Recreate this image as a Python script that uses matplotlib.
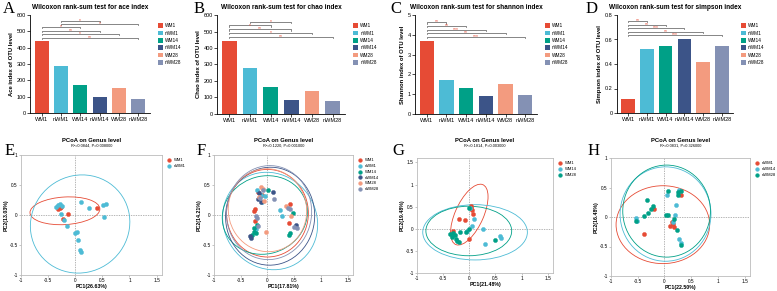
import matplotlib.pyplot as plt
from matplotlib.patches import Ellipse

plt.rcParams["font.family"] = ["Liberation Sans", "DejaVu Sans"]

# ---- alpha diversity bars ----
groups = ["WM1", "nWM1", "WM14", "nWM14", "WM28", "nWM28"]
colors = ["#E64B35", "#4DBBD5", "#00A087", "#3C5488", "#F39B7F", "#8491B4"]

ace = [440, 285, 172, 100, 152, 87]
chao = [440, 278, 165, 85, 140, 77]
shannon = [3.7, 1.72, 1.33, 0.93, 1.5, 0.97]
simpson = [0.115, 0.52, 0.545, 0.605, 0.413, 0.545]

# significance brackets: (i, j, height, label)
ace_sig = [(1, 3, 565, "*"), (1, 5, 545, "*"), (0, 2, 525, "*"),
           (0, 3, 504, "**"), (0, 4, 484, "*"), (0, 5, 462, "**")]
chao_sig = [(1, 3, 557, "*"), (0, 2, 537, "*"), (0, 3, 513, "**"),
            (0, 4, 492, "*"), (0, 5, 468, "**")]
shannon_sig = [(0, 1, 4.63, "**"), (0, 2, 4.46, "**"), (0, 3, 4.26, "***"),
               (0, 4, 4.08, "**"), (0, 5, 3.88, "***")]
simpson_sig = [(0, 1, 0.749, "**"), (0, 2, 0.719, "**"), (0, 3, 0.692, "***"),
               (0, 4, 0.665, "**"), (0, 5, 0.638, "***")]

# ---- PCoA data ----
E_groups = ["WM1", "nWM1"]
E_x = [[-0.28, -0.31, -0.27, -0.22, -0.14, 0.41, -0.32],
       [-0.36, -0.32, -0.29, -0.27, -0.20, -0.15, 0.0, 0.04, 0.06, 0.08, 0.10,
        0.10, 0.26, 0.52, 0.57, 0.53, -0.25]]
E_y = [[0.11, 0.10, 0.13, -0.06, 0.01, 0.12, 0.15],
       [0.14, 0.17, 0.18, 0.02, -0.09, -0.18, -0.30, -0.28, -0.42, -0.59, -0.61,
        0.22, 0.12, 0.17, 0.18, -0.04, 0.15]]
E_ell = [(-0.19, 0.07, 1.29, 0.46, 3), (0.09, -0.15, 1.84, 1.63, 10)]

F_groups = groups
F_x = [[-0.23, -0.25, -0.23, 0.40, 0.43, -0.10, -0.18],
       [0.23, 0.28, -0.13, -0.22, -0.05, -0.10, -0.20],
       [0.01, 0.48, 0.43, 0.41, -0.20, -0.25, -0.28, -0.26, -0.22],
       [0.10, 0.53, -0.32, -0.15, -0.18, -0.30, -0.12],
       [-0.12, 0.34, 0.44, -0.02, -0.06, -0.16, -0.08],
       [-0.09, 0.12, 0.38, 0.43, 0.55, 0.50, -0.21, -0.19, -0.18, -0.14]]
F_y = [[0.10, 0.06, -0.10, -0.14, 0.18, 0.33, 0.38],
       [0.09, -0.01, 0.34, -0.24, 0.31, 0.22, 0.41],
       [0.41, 0.03, -0.30, -0.34, -0.16, -0.28, -0.33, -0.22, -0.30],
       [0.38, -0.16, -0.35, 0.36, 0.27, -0.38, 0.22],
       [0.46, 0.15, -0.02, -0.28, 0.23, 0.30, 0.44],
       [0.42, 0.27, 0.12, 0.10, -0.22, -0.20, -0.01, -0.05, -0.19, 0.29]]
F_ell = [(0.0, 0.03, 1.53, 1.46, 0), (0.05, -0.10, 1.80, 1.60, -20),
         (-0.05, 0.0, 1.60, 1.30, 10), (0.05, -0.02, 1.67, 1.63, 15),
         (0.0, 0.08, 1.47, 1.38, -10), (0.03, 0.04, 1.60, 1.56, 25)]

G_groups = ["WM1", "WM14", "WM28"]
G_x = [[-0.20, -0.09, -0.32, -0.01, 0.03, 0.06, 0.07, 0.04],
       [0.01, 0.09, 0.06, 0.26, 0.30, 0.58, 0.60, -0.04, -0.32],
       [0.0, -0.36, -0.31, -0.34, -0.26, -0.23, -0.20, -0.18, -0.07, -0.01, 0.50, -0.28]]
G_y = [[0.21, 0.19, -0.04, -0.22, 0.51, 0.42, 0.34, 0.47],
       [0.47, 0.22, 0.06, -0.01, -0.34, -0.16, -0.20, -0.04, -0.13],
       [0.46, -0.11, -0.09, -0.19, -0.24, -0.28, -0.29, -0.07, -0.07, -0.01, -0.26, -0.15]]
G_ell = [(0.0, 0.32, 1.45, 0.55, 70), (0.11, -0.08, 2.0, 1.25, 0),
         (-0.01, -0.05, 1.64, 1.12, 0)]

H_groups = ["nWM1", "nWM14", "nWM28"]
H_x = [[-0.39, -0.20, 0.14, 0.16, 0.11, 0.17, 0.30],
       [-0.53, -0.51, 0.05, 0.22, 0.19, 0.28, 0.30, 0.16, 0.28],
       [-0.53, -0.39, -0.33, -0.30, -0.25, -0.22, 0.06, 0.03, 0.06, 0.17, 0.25,
        0.31, 0.26, 0.30, 0.24]]
H_y = [[-0.28, 0.13, -0.09, -0.12, -0.15, -0.17, 0.38],
       [-0.02, -0.07, 0.37, 0.21, 0.04, -0.37, -0.44, -0.08, 0.46],
       [-0.07, 0.02, 0.28, 0.06, 0.14, 0.18, 0.44, 0.04, 0.03, -0.04, 0.43,
        0.44, 0.38, -0.48, -0.22]]
H_ell = [(-0.03, -0.13, 1.75, 1.32, 0), (0.02, 0.05, 1.70, 1.60, 0),
         (0.04, 0.10, 1.64, 1.56, 0)]

pcoa_stats = ["R\u00b2=0.0844, P=0.008000", "R\u00b2=0.1220, P=0.001000",
              "R\u00b2=0.1814, P=0.003000", "R\u00b2=0.0831, P=0.326000"]
pc1 = ["PC1(26.63%)", "PC1(17.81%)", "PC1(21.48%)", "PC1(22.50%)"]
pc2 = ["PC2(13.03%)", "PC2(14.21%)", "PC2(19.48%)", "PC2(16.48%)"]

W, H = 777, 291
fig = plt.figure(figsize=(W / 100, H / 100), dpi=100)
LETTER = dict(fontsize=12, family="Liberation Serif", va="top")


def box(l, t, r, b):
    return [l / W, 1 - b / H, (r - l) / W, (b - t) / H]


def bar_panel(rect, vals, sig, title, ylabel, ymax, step, lab, lab_x):
    ax = fig.add_axes(box(*rect))
    x = range(len(groups))
    ax.bar(x, vals, width=0.72, color=colors, label=groups)
    ax.set_ylim(0, ymax)
    ticks = [i * step for i in range(int(round(ymax / step)) + 1)]
    ax.set_yticks(ticks)
    ax.set_yticklabels([("%g" % round(t, 2)) for t in ticks])
    ax.set_xticks(list(x))
    ax.set_xticklabels(groups)
    ax.set_xlim(-0.6, 5.6)
    ax.spines["top"].set_visible(False)
    ax.spines["right"].set_visible(False)
    for s in ("left", "bottom"):
        ax.spines[s].set_linewidth(0.6)
    ax.tick_params(labelsize=4, length=2, width=0.5, pad=1)
    ax.set_ylabel(ylabel, fontsize=4.2, fontweight="bold", labelpad=2)
    ax.set_title(title, fontsize=4.7, fontweight="bold", pad=4)
    dy = ymax * 0.012
    for i, j, h, s in sig:
        ax.plot([i, i, j, j], [h - dy, h, h, h - dy], color="#555555", lw=0.5,
                clip_on=False)
        ax.text((i + j) / 2, h + dy * 0.3, s, color="#E64B35", fontsize=3.6,
                ha="center", va="center")
    ax.legend(loc="upper left", bbox_to_anchor=(1.03, 0.96), frameon=False,
              fontsize=3.4, handlelength=1.1, handleheight=1.1, labelspacing=0.5,
              handletextpad=0.4)
    fig.text(lab_x / W, 1 - 1 / H, lab, **LETTER)


bar_panel((30, 15, 150, 113), ace, ace_sig, "Wilcoxon rank-sum test for ace index",
          "Ace index of OTU level", 600, 100, "A", 3)
bar_panel((217, 15, 345, 114), chao, chao_sig, "Wilcoxon rank-sum test for chao index",
          "Chao index of OTU level", 600, 100, "B", 194)
bar_panel((415, 15, 537, 114), shannon, shannon_sig,
          "Wilcoxon rank-sum test for shannon index",
          "Shannon index of OTU level", 5, 1, "C", 390)
bar_panel((617, 15, 733, 113), simpson, simpson_sig,
          "Wilcoxon rank-sum test for simpson index",
          "Simpson index of OTU level", 0.8, 0.2, "D", 586)


def pcoa_panel(rect, names, cols, xs, ys, ells, ylim, yticks, k, lab, lab_x):
    ax = fig.add_axes(box(*rect))
    for n, c, px, py, (cx, cy, w, h, a) in zip(names, cols, xs, ys, ells):
        ax.scatter(px, py, s=9, color=c, edgecolors=c, linewidths=0.3,
                   label=n, zorder=3)
        ax.add_patch(Ellipse((cx, cy), w, h, angle=a, fill=False,
                             edgecolor=c, lw=0.6, zorder=2))
    ax.axhline(0, color="#999999", lw=0.5, ls=(0, (2, 1.5)), zorder=1)
    ax.axvline(0, color="#999999", lw=0.5, ls=(0, (2, 1.5)), zorder=1)
    ax.set_xlim(-1, 1.6)
    ax.set_ylim(*ylim)
    ax.set_xticks([-1, -0.5, 0, 0.5, 1, 1.5])
    ax.set_xticklabels(["-1", "-0.5", "0", "0.5", "1", "1.5"])
    ax.set_yticks(yticks)
    ax.set_yticklabels([("%g" % t) for t in yticks])
    for s in ax.spines.values():
        s.set_color("#BBBBBB")
        s.set_linewidth(0.6)
    ax.tick_params(labelsize=3.4, length=1.5, width=0.4, pad=0.8, color="#999999")
    ax.set_xlabel(pc1[k], fontsize=3.8, fontweight="bold", labelpad=0.5)
    ax.set_ylabel(pc2[k], fontsize=3.8, fontweight="bold", labelpad=1)
    cxp = (rect[0] + rect[2]) / 2 / W
    fig.text(cxp, 1 - 140 / H, "PCoA on Genus level", fontsize=4.2,
             fontweight="bold", ha="center", va="center")
    fig.text(cxp, 1 - 146 / H, pcoa_stats[k], fontsize=2.8,
             ha="center", va="center")
    ax.legend(loc="upper left", bbox_to_anchor=(1.0, 1.0), frameon=False,
              fontsize=3, markerscale=0.9, handletextpad=0.1,
              labelspacing=0.45, borderaxespad=0.3)
    fig.text(lab_x / W, 1 - 143 / H, lab, **LETTER)


pcoa_panel((21, 155, 162, 275), E_groups, colors[:2], E_x, E_y, E_ell,
           (-1, 1), [-1, -0.5, 0, 0.5, 1], 0, "E", 5)
pcoa_panel((214, 155, 353, 275), F_groups, colors, F_x, F_y, F_ell,
           (-1, 1), [-1, -0.5, 0, 0.5, 1], 1, "F", 197)
pcoa_panel((417, 158, 553, 273), G_groups, colors[:3], G_x, G_y, G_ell,
           (-1, 1.6), [-1, -0.5, 0, 0.5, 1, 1.5], 2, "G", 392)
pcoa_panel((611, 158, 750, 276), H_groups, colors[:3], H_x, H_y, H_ell,
           (-1, 1), [-1, -0.5, 0, 0.5, 1], 3, "H", 588)

fig.savefig("out.png", dpi=100)
